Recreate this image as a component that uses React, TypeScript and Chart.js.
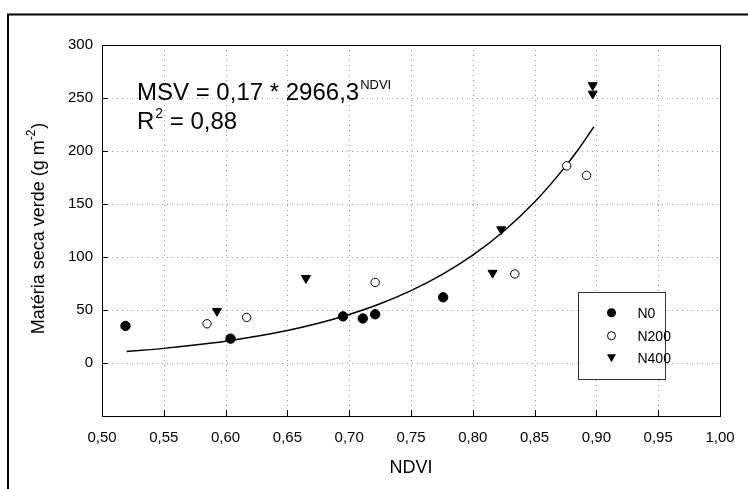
import React, { useEffect, useRef } from 'react';
import { Chart, registerables } from 'chart.js';

Chart.register(...registerables);

// ---- data ----
const xTickValues = [0.5, 0.55, 0.6, 0.65, 0.7, 0.75, 0.8, 0.85, 0.9, 0.95, 1.0];
const yTickValues = [0, 50, 100, 150, 200, 250, 300];

const seriesNames = ['N0', 'N200', 'N400'];

const n0Ndvi = [0.519, 0.604, 0.695, 0.711, 0.721, 0.776];
const n0Msv = [35, 23, 44, 42, 46, 62];

const n200Ndvi = [0.585, 0.617, 0.721, 0.834, 0.876, 0.892];
const n200Msv = [37, 43, 76, 84, 186, 177];

const n400Ndvi = [0.593, 0.665, 0.816, 0.823, 0.897, 0.897];
const n400Msv = [49, 80, 85, 126, 262, 254];

// fitted curve as drawn
const curveNdvi = [0.52, 0.55, 0.575, 0.6, 0.625, 0.65, 0.675, 0.7, 0.725, 0.75, 0.775, 0.8, 0.825, 0.85, 0.875, 0.885, 0.898];
const curveMsv = [10.9, 13.8, 16.9, 20.6, 25.2, 30.7, 37.5, 45.8, 55.9, 68.3, 83.4, 101.8, 124.3, 151.8, 185.5, 200.9, 222.9];

const equationMain = 'MSV = 0,17 * 2966,3';
const equationExp = 'NDVI';
const r2Main = 'R';
const r2Sup = '2';
const r2Rest = ' = 0,88';
const xTitle = 'NDVI';
const yTitleMain = 'Matéria seca verde (g m';
const yTitleSup = '-2';
const yTitleEnd = ')';

const FONT = 'Arial, "Liberation Sans", sans-serif';

const toPairs = (xs: number[], ys: number[]) => xs.map((x, i) => ({ x, y: ys[i] }));

const fmtComma = (v: number) => v.toFixed(2).replace('.', ',');

export default function App() {
  const ref = useRef<HTMLCanvasElement | null>(null);

  useEffect(() => {
    const canvas = ref.current;
    if (!canvas) return;

    const decorPlugin = {
      id: 'decor',
      beforeDatasetsDraw(chart: any) {
        const { ctx, chartArea } = chart;
        const xs = chart.scales.x;
        const ys = chart.scales.y;
        const { left, right, top, bottom } = chartArea;
        ctx.save();
        // dotted grid
        ctx.strokeStyle = '#9a9a9a';
        ctx.lineWidth = 1;
        ctx.setLineDash([1, 4]);
        xTickValues.forEach((v) => {
          if (v <= 0.5 || v >= 1.0) return;
          const px = Math.round(xs.getPixelForValue(v)) + 0.5;
          ctx.beginPath();
          ctx.moveTo(px, top);
          ctx.lineTo(px, bottom);
          ctx.stroke();
        });
        yTickValues.forEach((v) => {
          if (v >= 300) return;
          const py = Math.round(ys.getPixelForValue(v)) + 0.5;
          ctx.beginPath();
          ctx.moveTo(left, py);
          ctx.lineTo(right, py);
          ctx.stroke();
        });
        ctx.setLineDash([]);
        // inward ticks
        ctx.strokeStyle = '#000';
        xTickValues.forEach((v) => {
          if (v <= 0.5 || v >= 1.0) return;
          const px = Math.round(xs.getPixelForValue(v)) + 0.5;
          ctx.beginPath();
          ctx.moveTo(px, bottom);
          ctx.lineTo(px, bottom - 6);
          ctx.stroke();
        });
        yTickValues.forEach((v) => {
          if (v >= 300) return;
          const py = Math.round(ys.getPixelForValue(v)) + 0.5;
          ctx.beginPath();
          ctx.moveTo(left, py);
          ctx.lineTo(left + 6, py);
          ctx.stroke();
        });
        // plot border
        ctx.strokeStyle = '#000';
        ctx.lineWidth = 1;
        ctx.strokeRect(Math.round(left) + 0.5, Math.round(top) + 0.5, Math.round(right - left), Math.round(bottom - top));
        ctx.restore();
      },
      afterDraw(chart: any) {
        const { ctx, chartArea } = chart;
        const { left, right, top, bottom } = chartArea;
        const w = right - left;
        const h = bottom - top;
        ctx.save();
        // outer frame
        ctx.strokeStyle = '#000';
        ctx.lineWidth = 2;
        ctx.strokeRect(8, 14.5, 900, 700);

        // equation
        ctx.fillStyle = '#000';
        ctx.textBaseline = 'alphabetic';
        ctx.textAlign = 'left';
        const eqX = left + 35;
        const eqY = top + 55;
        ctx.font = `24px ${FONT}`;
        ctx.fillText(equationMain, eqX, eqY);
        const wMain = ctx.measureText(equationMain).width;
        ctx.font = `13px ${FONT}`;
        ctx.fillText(equationExp, eqX + wMain + 1, eqY - 11);
        const r2Y = eqY + 29;
        ctx.font = `24px ${FONT}`;
        ctx.fillText(r2Main, eqX, r2Y);
        const wR = ctx.measureText(r2Main).width;
        ctx.font = `14px ${FONT}`;
        ctx.fillText(r2Sup, eqX + wR + 1, r2Y - 11);
        const wS = ctx.measureText(r2Sup).width;
        ctx.font = `24px ${FONT}`;
        ctx.fillText(r2Rest, eqX + wR + wS + 1, r2Y);

        // legend box
        const bx = left + w * 0.771;
        const by = top + h * 0.665;
        const bw = 87;
        const bh = 87;
        ctx.fillStyle = '#fff';
        ctx.fillRect(bx, by, bw, bh);
        ctx.strokeStyle = '#333';
        ctx.lineWidth = 1;
        ctx.strokeRect(Math.round(bx) + 0.5, Math.round(by) + 0.5, bw, bh);
        const mx = bx + 33;
        const rows = [by + 21, by + 44, by + 66];
        ctx.font = `14px ${FONT}`;
        ctx.textBaseline = 'middle';
        seriesNames.forEach((name, i) => {
          const cy = rows[i];
          ctx.fillStyle = '#000';
          ctx.strokeStyle = '#000';
          ctx.lineWidth = 1;
          if (i === 0) {
            ctx.beginPath();
            ctx.arc(mx, cy, 4.5, 0, Math.PI * 2);
            ctx.fill();
          } else if (i === 1) {
            ctx.beginPath();
            ctx.arc(mx, cy, 4, 0, Math.PI * 2);
            ctx.fillStyle = '#fff';
            ctx.fill();
            ctx.stroke();
          } else {
            ctx.beginPath();
            ctx.moveTo(mx - 4.5, cy - 3.5);
            ctx.lineTo(mx + 4.5, cy - 3.5);
            ctx.lineTo(mx, cy + 4.5);
            ctx.closePath();
            ctx.fill();
          }
          ctx.fillStyle = '#000';
          ctx.fillText(name, bx + 59, cy + 1);
        });

        // axis titles
        ctx.font = `18px ${FONT}`;
        ctx.textAlign = 'center';
        ctx.textBaseline = 'middle';
        ctx.fillText(xTitle, (left + right) / 2, 468);

        ctx.translate(38, (top + bottom) / 2 - 2);
        ctx.rotate(-Math.PI / 2);
        ctx.font = `18px ${FONT}`;
        const w1 = ctx.measureText(yTitleMain).width;
        ctx.font = `12px ${FONT}`;
        const w2 = ctx.measureText(yTitleSup).width;
        ctx.font = `18px ${FONT}`;
        const w3 = ctx.measureText(yTitleEnd).width;
        const total = w1 + w2 + w3 + 1;
        let cx = -total / 2;
        ctx.textAlign = 'left';
        ctx.textBaseline = 'alphabetic';
        ctx.fillText(yTitleMain, cx, 6);
        cx += w1;
        ctx.font = `12px ${FONT}`;
        ctx.fillText(yTitleSup, cx, -3);
        cx += w2 + 1;
        ctx.font = `18px ${FONT}`;
        ctx.fillText(yTitleEnd, cx, 6);
        ctx.restore();
      },
    };

    const chart = new Chart(canvas, {
      type: 'scatter',
      data: {
        datasets: [
          {
            label: 'fit',
            data: toPairs(curveNdvi, curveMsv),
            showLine: true,
            borderColor: '#000',
            borderWidth: 1.5,
            pointRadius: 0,
            cubicInterpolationMode: 'monotone',
            order: 4,
          } as any,
          {
            label: seriesNames[0],
            data: toPairs(n0Ndvi, n0Msv),
            pointStyle: 'circle',
            pointRadius: 4.7,
            backgroundColor: '#000',
            borderColor: '#000',
            borderWidth: 1,
            order: 1,
          },
          {
            label: seriesNames[1],
            data: toPairs(n200Ndvi, n200Msv),
            pointStyle: 'circle',
            pointRadius: 4.2,
            backgroundColor: '#fff',
            borderColor: '#000',
            borderWidth: 1,
            order: 2,
          },
          {
            label: seriesNames[2],
            data: toPairs(n400Ndvi, n400Msv),
            pointStyle: 'triangle',
            pointRotation: 180,
            pointRadius: 5.2,
            backgroundColor: '#000',
            borderColor: '#000',
            borderWidth: 1,
            order: 3,
          },
        ],
      },
      options: {
        responsive: false,
        animation: false,
        devicePixelRatio: 1,
        layout: { padding: { left: 0, top: 45, right: 28, bottom: 0 } },
        plugins: {
          legend: { display: false },
          tooltip: { enabled: false },
          title: { display: false },
        },
        scales: {
          x: {
            type: 'linear',
            min: 0.5,
            max: 1.0,
            afterBuildTicks: (scale: any) => {
              scale.ticks = xTickValues.map((v) => ({ value: v }));
            },
            afterFit: (scale: any) => {
              scale.height = 73;
            },
            grid: { display: false, drawTicks: false },
            border: { display: false },
            ticks: {
              padding: 13,
              color: '#000',
              font: { family: FONT, size: 15 },
              maxRotation: 0,
              autoSkip: false,
              callback: (v: any) => fmtComma(Number(v)),
            },
          },
          y: {
            type: 'linear',
            min: -50,
            max: 300,
            afterBuildTicks: (scale: any) => {
              scale.ticks = yTickValues.map((v) => ({ value: v }));
            },
            afterFit: (scale: any) => {
              scale.width = 102;
            },
            grid: { display: false, drawTicks: false },
            border: { display: false },
            ticks: {
              padding: 9,
              color: '#000',
              font: { family: FONT, size: 15 },
              autoSkip: false,
              callback: (v: any) => String(v),
            },
          },
        },
      },
      plugins: [decorPlugin],
    });

    return () => {
      chart.destroy();
    };
  }, []);

  return (
    <canvas
      ref={ref}
      width={748}
      height={489}
      style={{ position: 'fixed', left: 0, top: 0, width: 748, height: 489, background: '#fff' }}
    />
  );
}
